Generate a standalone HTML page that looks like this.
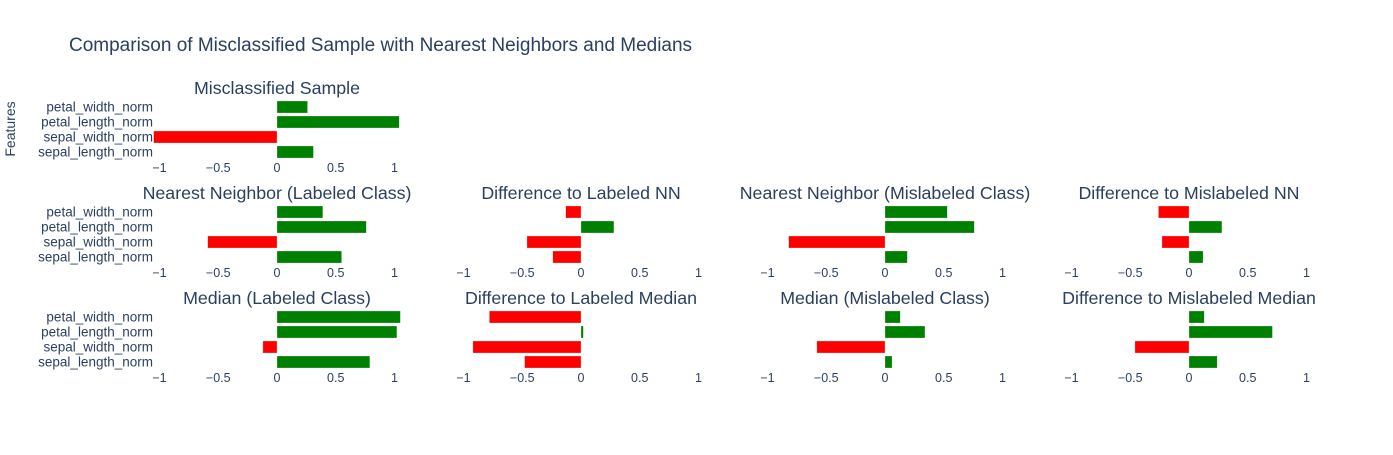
<!DOCTYPE html>
<html><head><meta charset="utf-8"><style>
body{margin:0;background:#fff;}
svg text{font-family:"Liberation Sans",Arial,sans-serif;fill:#2a3f5f;}
</style></head><body>
<svg id="chart" width="1393" height="450" xmlns="http://www.w3.org/2000/svg">
<text x="69" y="51" font-size="19">Comparison of Misclassified Sample with Nearest Neighbors and Medians</text>
<text transform="translate(15,129) rotate(-90)" text-anchor="middle" font-size="14">Features</text>
</svg>
<script>
const features = ["sepal_length_norm","sepal_width_norm","petal_length_norm","petal_width_norm"];
const titles = ["Misclassified Sample","Nearest Neighbor (Labeled Class)","Difference to Labeled NN","Nearest Neighbor (Mislabeled Class)","Difference to Mislabeled NN","Median (Labeled Class)","Difference to Labeled Median","Median (Mislabeled Class)","Difference to Mislabeled Median"];
const sampleVals = [0.31,-1.05,1.04,0.26];
const nnLabeledVals = [0.55,-0.59,0.76,0.39];
const diffNnLabeledVals = [-0.24,-0.46,0.28,-0.13];
const nnMislabeledVals = [0.19,-0.82,0.76,0.53];
const diffNnMislabeledVals = [0.12,-0.23,0.28,-0.26];
const medLabeledVals = [0.79,-0.12,1.02,1.05];
const diffMedLabeledVals = [-0.48,-0.92,0.02,-0.78];
const medMislabeledVals = [0.06,-0.58,0.34,0.13];
const diffMedMislabeledVals = [0.24,-0.46,0.71,0.13];
const tickVals = [-1,-0.5,0,0.5,1];
const tickLabels = ["\u22121","\u22120.5","0","0.5","1"];

const svg = document.getElementById('chart');
const NS = "http://www.w3.org/2000/svg";
const zeros = [277,581,885,1189];
const unit = 117.5;
const rowTop = [100,205,310];
const panels = [
  {r:0,c:0,v:sampleVals,t:0,n:'sample'},
  {r:1,c:0,v:nnLabeledVals,t:1,n:'nn-labeled'},
  {r:1,c:1,v:diffNnLabeledVals,t:2,n:'diff-nn-labeled'},
  {r:1,c:2,v:nnMislabeledVals,t:3,n:'nn-mislabeled'},
  {r:1,c:3,v:diffNnMislabeledVals,t:4,n:'diff-nn-mislabeled'},
  {r:2,c:0,v:medLabeledVals,t:5,n:'median-labeled'},
  {r:2,c:1,v:diffMedLabeledVals,t:6,n:'diff-median-labeled'},
  {r:2,c:2,v:medMislabeledVals,t:7,n:'median-mislabeled'},
  {r:2,c:3,v:diffMedMislabeledVals,t:8,n:'diff-median-mislabeled'}
];
function el(tag, attrs, text){const e=document.createElementNS(NS,tag);for(const k in attrs)e.setAttribute(k,attrs[k]);if(text!==undefined)e.textContent=text;svg.appendChild(e);return e;}
panels.forEach(p=>{
  const x0 = zeros[p.c];
  const xs = v => x0 + v*unit;
  const yc = i => rowTop[p.r] + 52 - i*15;
  const tt = el('text',{x:x0,y:rowTop[p.r]-6,'font-size':17.8,'text-anchor':'middle'},titles[p.t]);
  
  
  p.v.forEach((v,i)=>{
    const b = el('rect',{x:Math.min(xs(0),xs(v)),y:yc(i)-6,width:Math.abs(xs(v)-xs(0)),height:12,fill:v<0?'#ff0000':'#008000',stroke:'rgba(255,255,255,0.5)','stroke-width':0.5});
    
    
    if(p.c===0){
      const l = el('text',{x:153,y:yc(i)+4.5,'font-size':13.5,'text-anchor':'end'},features[i]);
      
      
    }
  });
  tickVals.forEach((tv,k)=>{
    const t = el('text',{x:xs(tv),y:rowTop[p.r]+72,'font-size':12.5,'text-anchor':'middle'},tickLabels[k]);
    
    
  });
});
</script>
</body></html>
